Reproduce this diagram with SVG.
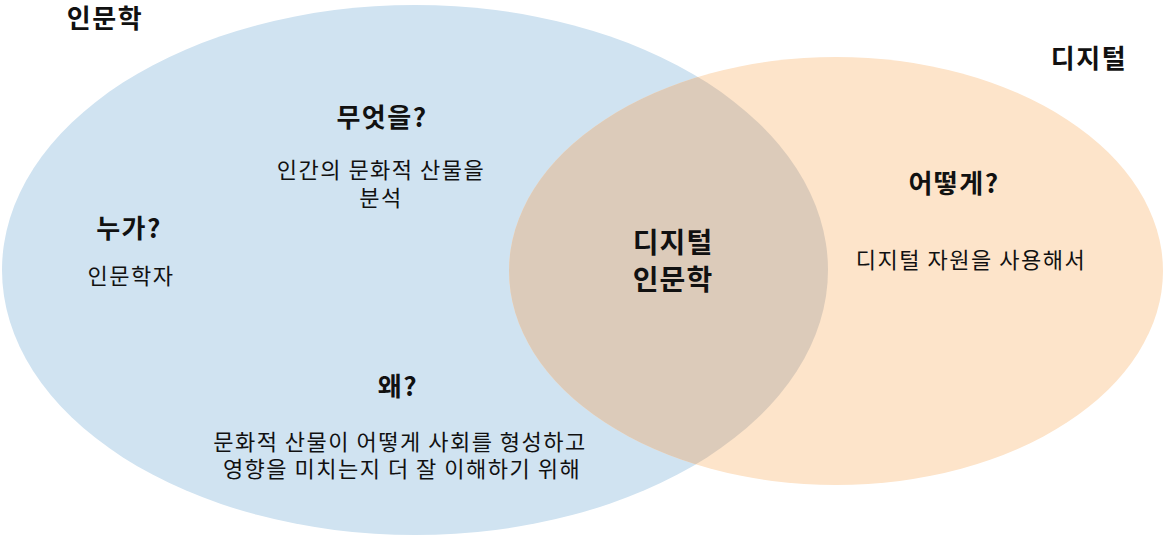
<svg xmlns="http://www.w3.org/2000/svg" width="1166" height="536" viewBox="0 0 1166 536">
<style>
text{font-family:"Noto Sans CJK KR","Noto Sans",sans-serif;fill:#111;text-anchor:middle}
.h{font-weight:bold;font-size:26px;letter-spacing:1.5px}
.b{font-size:22px;letter-spacing:1.5px}
.c{font-weight:bold;font-size:28px;letter-spacing:1px}
</style>
<defs>
<clipPath id="oc"><ellipse cx="836" cy="271" rx="327" ry="214"/></clipPath>
</defs>
<rect width="1166" height="536" fill="#fff"/>
<g id="humanities">
<ellipse cx="415" cy="270" rx="413" ry="265" fill="#d0e3f1"/>
<text class="h" x="105" y="28">인문학</text>
</g>
<g id="digital">
<ellipse cx="836" cy="271" rx="327" ry="214" fill="#fde4ca"/>
<text class="h" x="1089" y="68">디지털</text>
</g>
<g id="overlap">
<ellipse cx="415" cy="270" rx="413" ry="265" fill="#dccbba" clip-path="url(#oc)"/>
<text class="c" x="673" y="253">디지털</text>
<text class="c" x="673" y="290">인문학</text>
</g>
<g id="what">
<text class="h" x="382" y="127">무엇을?</text>
<text class="b" x="381" y="178">인간의 문화적 산물을</text>
<text class="b" x="381" y="206">분석</text>
</g>
<g id="who">
<text class="h" x="129" y="238">누가?</text>
<text class="b" x="131" y="284">인문학자</text>
</g>
<g id="how">
<text class="h" x="954" y="193">어떻게?</text>
<text class="b" x="971" y="268">디지털 자원을 사용해서</text>
</g>
<g id="why">
<text class="h" x="398" y="396">왜?</text>
<text class="b" x="400" y="450">문화적 산물이 어떻게 사회를 형성하고</text>
<text class="b" x="402" y="477">영향을 미치는지 더 잘 이해하기 위해</text>
</g>
<g id="connectors"></g>
</svg>
